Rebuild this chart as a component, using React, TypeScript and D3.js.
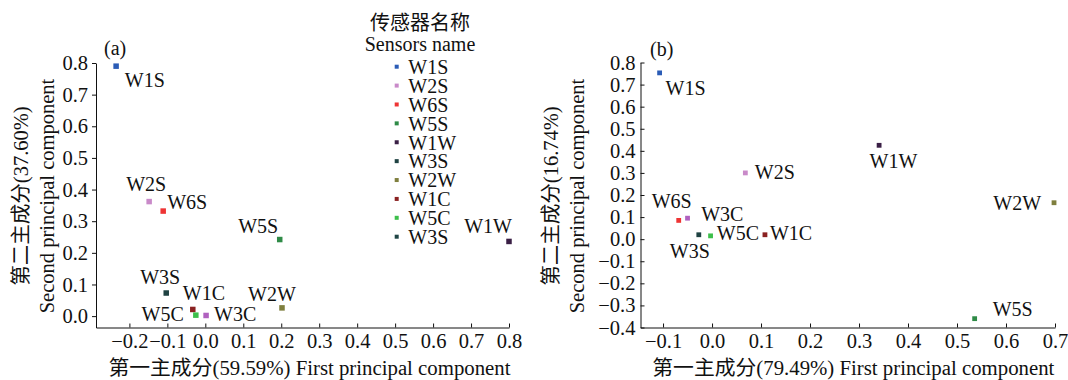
import * as d3 from "d3";
import { useEffect, useRef } from "react";

const sensors = ["W1S", "W2S", "W6S", "W5S", "W1W", "W3S", "W2W", "W1C", "W5C", "W3C"];
const colors = ["#2b5cb6", "#c98ac9", "#ee3434", "#2f8b47", "#3a1f45", "#1f4242", "#7f7f3e", "#8a2121", "#3dbf4b", "#b061bf"];

// panel (a)
const pc1A = [-0.235, -0.148, -0.111, 0.196, 0.8, -0.103, 0.202, -0.033, -0.025, 0.002];
const pc2A = [0.79, 0.362, 0.332, 0.242, 0.236, 0.073, 0.026, 0.021, 0.003, 0.002];
// panel (b)
const pc1B = [-0.107, 0.068, -0.068, 0.536, 0.341, -0.027, 0.698, 0.108, -0.003, -0.05];
const pc2B = [0.753, 0.3, 0.085, -0.36, 0.425, 0.02, 0.165, 0.02, 0.015, 0.095];

const xTicksA = [-0.2, -0.1, 0, 0.1, 0.2, 0.3, 0.4, 0.5, 0.6, 0.7, 0.8];
const yTicksA = [0, 0.1, 0.2, 0.3, 0.4, 0.5, 0.6, 0.7, 0.8];
const xTicksB = [-0.1, 0, 0.1, 0.2, 0.3, 0.4, 0.5, 0.6, 0.7];
const yTicksB = [-0.4, -0.3, -0.2, -0.1, 0, 0.1, 0.2, 0.3, 0.4, 0.5, 0.6, 0.7, 0.8];

const legendNames = ["W1S", "W2S", "W6S", "W5S", "W1W", "W3S", "W2W", "W1C", "W5C", "W3S"];
const legendColors = ["#2b5cb6", "#c98ac9", "#ee3434", "#2f8b47", "#3a1f45", "#1f4242", "#7f7f3e", "#8a2121", "#3dbf4b", "#1f4545"];

// label placement (dx, dy, anchor) relative to each marker
const labelPosA: [number, number, string][] = [
  [8.7, 21, "start"], [-3, -11, "middle"], [4, -2, "start"], [-1.5, -7, "end"], [3, -8, "end"],
  [-6, -9, "middle"], [-10, -7, "middle"], [-10, -9, "start"], [-12, 6, "end"], [8, 6, "start"],
];
const labelPosB: [number, number, string][] = [
  [6, 22.5, "start"], [9.5, 6, "start"], [-7, -12.5, "middle"], [18, -2.7, "start"], [-9.5, 23, "start"],
  [-9, 23, "middle"], [-13, 7.7, "end"], [5, 5.5, "start"], [6.3, 4.6, "start"], [13.6, 2.6, "start"],
];

const FONT = "Liberation Serif, Times New Roman, Times, DejaVu Serif, Noto Sans CJK SC, serif";
const fmt = d3.format(".1f");

export default function App() {
  const ref = useRef<SVGSVGElement>(null);

  useEffect(() => {
    if (!ref.current) return;
    const svg = d3.select(ref.current);
    svg.selectAll("*").remove();

    const panels = [
      {
        px: pc1A, py: pc2A, xTicks: xTicksA, yTicks: yTicksA,
        x: d3.scaleLinear().domain([-0.288, 0.8]).range([96, 509]),
        y: d3.scaleLinear().domain([-0.036, 0.8]).range([327.5, 63]),
        yInward: false, size: 5.5, pos: labelPosA, tag: "(a)", tagX: 104, tagY: 55,
        xTitle: "第一主成分(59.59%) First principal component", xTitleDx: 7,
        yTitle: "第二主成分(37.60%)", yx1: 20.7, yx2: 46.7,
      },
      {
        px: pc1B, py: pc2B, xTicks: xTicksB, yTicks: yTicksB,
        x: d3.scaleLinear().domain([-0.146, 0.7]).range([640.5, 1055]),
        y: d3.scaleLinear().domain([-0.4, 0.8]).range([327.5, 62.5]),
        yInward: true, size: 4.8, pos: labelPosB, tag: "(b)", tagX: 650, tagY: 56,
        xTitle: "第一主成分(79.49%) First principal component", xTitleDx: 5.6,
        yTitle: "第二主成分(16.74%)", yx1: 550.7, yx2: 576.7,
      },
    ];

    panels.forEach((p) => {
      const g = svg.append("g");
      const y0 = p.y.range()[0];
      const x0 = p.x.range()[0];

      const xAxis = g
        .append("g")
        .attr("transform", `translate(0,${y0})`)
        .call(
          d3.axisBottom(p.x).tickValues(p.xTicks).tickFormat((d) => fmt(d as number))
            .tickSize(-4).tickSizeOuter(0).tickPadding(5.5)
        );
      const yAxis = g
        .append("g")
        .attr("transform", `translate(${x0},0)`)
        .call(
          d3.axisLeft(p.y).tickValues(p.yTicks).tickFormat((d) => fmt(d as number))
            .tickSize(p.yInward ? -4 : 4).tickSizeOuter(0).tickPadding(p.yInward ? 5 : 4)
        );
      [xAxis, yAxis].forEach((a) => {
        a.attr("font-family", null).attr("font-size", null);
        a.selectAll("text").attr("font-size", 20.5).attr("fill", "#111");
        a.selectAll("line").attr("stroke", "#111");
        a.select(".domain").attr("stroke", "#111");
      });

      p.px.forEach((vx, i) => {
        const cx = p.x(vx);
        const cy = p.y(p.py[i]);
        g.append("rect")
          .attr("x", cx - p.size / 2)
          .attr("y", cy - p.size / 2)
          .attr("width", p.size)
          .attr("height", p.size)
          .attr("fill", colors[i]);
        const [dx, dy, anchor] = p.pos[i];
        g.append("text")
          .attr("x", cx + dx)
          .attr("y", cy + dy)
          .attr("text-anchor", anchor)
          .attr("fill", "#111")
          .text(sensors[i]);
      });

      g.append("text")
        .attr("x", p.tagX)
        .attr("y", p.tagY)
        .attr("fill", "#111")
        .text(p.tag);

      const [r0, r1] = p.x.range();
      g.append("text")
        .attr("x", (r0 + r1) / 2 + p.xTitleDx)
        .attr("y", 375)
        .attr("text-anchor", "middle")
        .attr("font-size", 20.8)
        .attr("fill", "#111")
        .text(p.xTitle);

      const yc = 196;
      [[p.yTitle, p.yx1], ["Second principal component", p.yx2]].forEach(([t, xx]) => {
        g.append("text")
          .attr("transform", `translate(${xx},${yc}) rotate(-90)`)
          .attr("text-anchor", "middle")
          .attr("dominant-baseline", "central")
          .attr("font-size", 20.5)
          .attr("fill", "#111")
          .text(t as string);
      });
    });

    // legend
    const lg = svg.append("g");
    lg.append("text").attr("x", 420).attr("y", 30).attr("text-anchor", "middle")
      .attr("fill", "#111").text("传感器名称");
    lg.append("text").attr("x", 420).attr("y", 51).attr("text-anchor", "middle")
      .attr("fill", "#111").text("Sensors name");
    const rowY = d3.scaleLinear().domain([0, legendNames.length - 1]).range([66.7, 236.7]);
    legendNames.forEach((n, i) => {
      lg.append("rect").attr("x", 396.7 - 2).attr("y", rowY(i) - 2).attr("width", 4).attr("height", 4)
        .attr("fill", legendColors[i]);
      lg.append("text").attr("x", 408.3).attr("y", rowY(i) + 7.3)
        .attr("fill", "#111").text(n);
    });
  }, []);

  return (
    <svg
      ref={ref}
      width={1068}
      height={380}
      fontFamily={FONT}
      fontSize={20}
      style={{ position: "absolute", left: 0, top: 0, background: "#fff" }}
    />
  );
}
